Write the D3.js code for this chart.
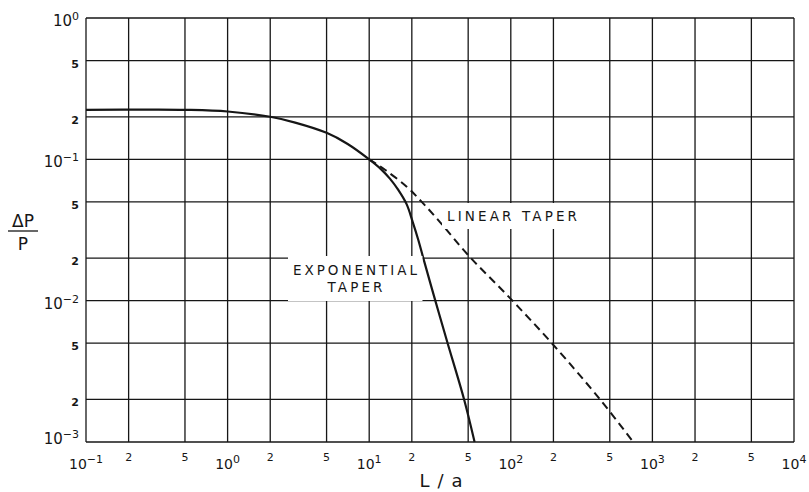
<!DOCTYPE html>
<html>
<head>
<meta charset="utf-8">
<script src="https://cdn.jsdelivr.net/npm/d3@7"></script>
<style>
  body { margin: 0; background: #fff; }
  svg { display: block; font-family: "DejaVu Sans", "Liberation Sans", sans-serif; }
</style>
</head>
<body>
<svg id="chart" width="809" height="492"></svg>
<script>
// values (log-log plot)
const xTicks = [0.1, 0.2, 0.5, 1, 2, 5, 10, 20, 50, 100, 200, 500, 1000, 2000, 5000, 10000];
const xTickLabels = ["10^-1", "2", "5", "10^0", "2", "5", "10^1", "2", "5", "10^2", "2", "5", "10^3", "2", "5", "10^4"];
const yTicks = [0.001, 0.002, 0.005, 0.01, 0.02, 0.05, 0.1, 0.2, 0.5, 1];
const yTickLabels = ["10^-3", "2", "5", "10^-2", "2", "5", "10^-1", "2", "5", "10^0"];

// exponential taper (solid)
const expL = [0.1, 0.3, 0.5, 1, 2, 3, 5, 7, 10, 12, 14, 16, 18.4, 20.3, 22.2, 24.1, 29.3, 35.8, 46.8, 55.5];
const expV = [0.224, 0.225, 0.224, 0.218, 0.2, 0.182, 0.154, 0.129, 0.1, 0.086, 0.073, 0.061, 0.048, 0.036, 0.027, 0.02, 0.01, 0.005, 0.002, 0.001];

// linear taper (dashed)
const linL = [10, 13, 18.4, 23.5, 31.6, 50, 98, 195, 427, 733];
const linV = [0.1, 0.084, 0.064, 0.05, 0.036, 0.021, 0.0105, 0.005, 0.002, 0.001];

const svg = d3.select("#chart");
const ink = "#161616";

const x = d3.scaleLog().domain([0.1, 10000]).range([86, 794]);
const y = d3.scaleLog().domain([0.001, 1]).range([442, 18]);

// grid
const grid = svg.append("g").attr("stroke", ink).attr("stroke-width", 1.3);
grid.selectAll("line.v")
    .data(xTicks)
    .join("line")
    .attr("class", "v")
    .attr("x1", d => x(d)).attr("x2", d => x(d))
    .attr("y1", y(1)).attr("y2", y(0.001));
grid.selectAll("line.h")
    .data(yTicks)
    .join("line")
    .attr("class", "h")
    .attr("x1", x(0.1)).attr("x2", x(10000))
    .attr("y1", d => y(d)).attr("y2", d => y(d));

// write "10^n" as 10 with a raised exponent
function tickText(sel, lab, big, sup, bold) {
    const parts = lab.split("^");
    if (parts.length == 1) {
        sel.append("tspan").attr("font-size", 11).attr("font-weight", bold ? "bold" : "normal").text(lab);
        return;
    }
    sel.append("tspan").attr("font-size", big).text(parts[0]);
    sel.append("tspan").attr("font-size", sup).attr("dy", -6)
        .text(parts[1].replace("-", "\u2212"));
}

// x tick labels
svg.append("g").selectAll("text")
    .data(xTicks)
    .join("text")
    .attr("x", d => x(d))
    .attr("y", (d, i) => xTickLabels[i].includes("^") ? 469 : 461)
    .attr("text-anchor", "middle")
    .attr("fill", ink)
    .each(function(d, i) { tickText(d3.select(this), xTickLabels[i], 14, 11, false); });

// y tick labels
svg.append("g").selectAll("text")
    .data(yTicks)
    .join("text")
    .attr("x", 79)
    .attr("y", (d, i) => {
        if (yTickLabels[i].includes("^")) return y(d) + (i == 0 ? 2 : 8);
        return y(d) + 7;
    })
    .attr("text-anchor", "end")
    .attr("fill", ink)
    .each(function(d, i) { tickText(d3.select(this), yTickLabels[i], 15, 11, true); });

// curves
const line = d3.line()
    .x(d => x(d[0]))
    .y(d => y(d[1]))
    .curve(d3.curveCatmullRom.alpha(0.5));

svg.append("path")
    .datum(linL.map((l, i) => [l, linV[i]]))
    .attr("d", line)
    .attr("fill", "none")
    .attr("stroke", ink)
    .attr("stroke-width", 2)
    .attr("stroke-dasharray", "8,5");

svg.append("path")
    .datum(expL.map((l, i) => [l, expV[i]]))
    .attr("d", line)
    .attr("fill", "none")
    .attr("stroke", ink)
    .attr("stroke-width", 2.2);

// curve labels on white patches
function boxLabel(lines, cx, cy, widths, pad) {
    const g = svg.append("g");
    const rect = g.append("rect").attr("fill", "#fff");
    lines.forEach((t, i) => {
        g.append("text")
            .attr("x", cx).attr("y", cy + i * 17)
            .attr("text-anchor", "middle")
            .attr("font-size", 13.5)
            .attr("fill", ink)
            .attr("textLength", widths[i])
            .attr("lengthAdjust", "spacing")
            .text(t);
    });
    const bb = g.node().getBBox();
    rect.attr("x", bb.x - pad[0]).attr("y", bb.y - pad[1])
        .attr("width", bb.width + 2 * pad[0]).attr("height", bb.height + 2 * pad[1]);
}
boxLabel(["LINEAR  TAPER"], 512, 221, [130], [5, 5]);
boxLabel(["EXPONENTIAL", "TAPER"], 355, 275, [124, 55], [5, 6]);

// axis titles
svg.append("text").attr("x", 23).attr("y", 227).attr("text-anchor", "middle")
    .attr("font-size", 17).attr("fill", ink).text("\u0394P");
svg.append("line").attr("x1", 8).attr("x2", 38).attr("y1", 231).attr("y2", 231)
    .attr("stroke", ink).attr("stroke-width", 1.3);
svg.append("text").attr("x", 23).attr("y", 250).attr("text-anchor", "middle")
    .attr("font-size", 17).attr("fill", ink).text("P");

svg.append("text").attr("x", 441).attr("y", 487).attr("text-anchor", "middle")
    .attr("font-size", 18).attr("fill", ink)
    .attr("textLength", 43).attr("lengthAdjust", "spacing")
    .text("L / a");
</script>
</body>
</html>
